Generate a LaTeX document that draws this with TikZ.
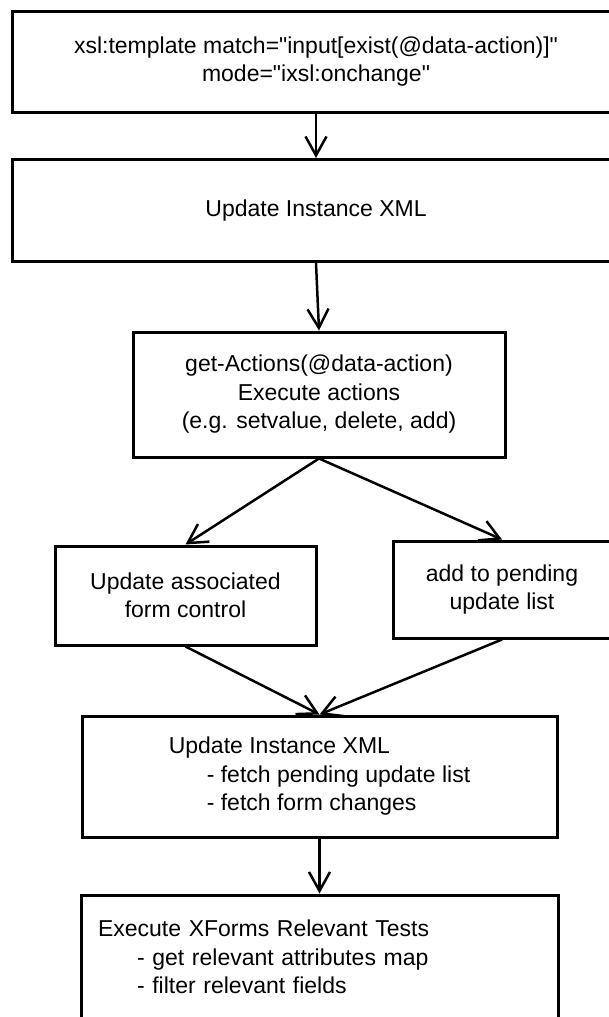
\documentclass[tikz,border=0pt]{standalone}
\usepackage{fontspec}
\setmainfont{Liberation Sans}[Ligatures=TeXOff]
\usetikzlibrary{arrows.meta}

\begin{document}
\begin{tikzpicture}[x=1pt,y=-1pt]

\tikzset{box/.style = {shape=rectangle,draw,line width=3pt,align=center,inner sep=0pt,font=\fontsize{23}{28.5}\selectfont}}
\tikzset{edge/.style = {-{Straight Barb[length=19pt,width=21pt]},line width=2.5pt}}

\useasboundingbox (0,0) rectangle (609,1017);
\clip (0,0) rectangle (609,1017);
\fill[white] (0,0) rectangle (609,1017);

%boxes
\node[box, minimum width=608pt, minimum height=101pt] (1) at (316,61.5) {xsl:template match="input[exist(@data-action)]"\\ mode="ixsl:onchange"};
\node[box, minimum width=608pt, minimum height=102pt] (2) at (316,210.5) {Update Instance XML};
\node[box, minimum width=372pt, minimum height=125pt] (3) at (319,394.5) {get-Actions(@data-action)\\ Execute actions\\ (e.g. setvalue, delete, add)};
\node[box, minimum width=261pt, minimum height=99pt] (4) at (185.5,595.5) {Update associated\\ form control};
\node[box, minimum width=218pt, minimum height=97pt] (5) at (502,589.5) {add to pending\\ update list};
\node[box, minimum width=475pt, minimum height=121pt, align=left] (6) at (319.5,776.5) {Update Instance XML\\ \hspace*{38pt}- fetch pending update list\\ \hspace*{38pt}- fetch form changes};
\node[box, minimum width=477pt, minimum height=124pt, text width=443pt, inner xsep=17pt, align=left] (7) at (319.5,957) {Execute XForms Relevant Tests\\ \hspace*{39pt}- get relevant attributes map\\ \hspace*{39pt}- filter relevant fields};

%arrows
\path (1.south) edge[edge] (2.north);
\path (2.south) edge[edge] (3.north);
\path (3.south) edge[edge] (4.north);
\path (3.south) edge[edge] (5.north);
\path (4.south) edge[edge] (6.north);
\path (5.south) edge[edge] (6.north);
\path (6.south) edge[edge] (7.north);

\end{tikzpicture}
\end{document}
